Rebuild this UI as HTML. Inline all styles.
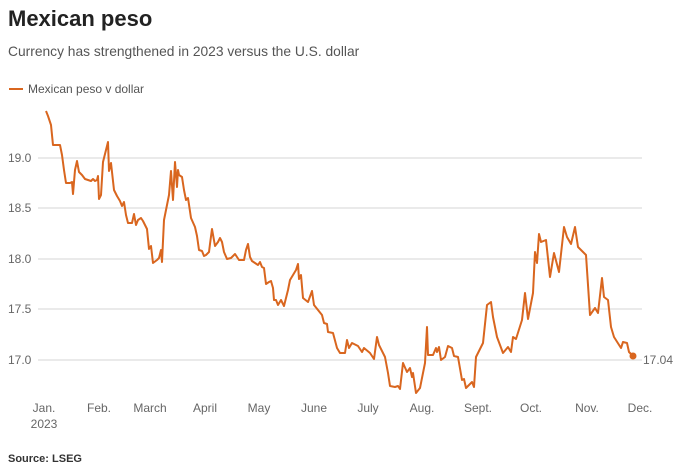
<!DOCTYPE html>
<html><head><meta charset="utf-8"><style>
body{margin:0;width:676px;height:467px;background:#fff;font-family:"Liberation Sans",sans-serif;overflow:hidden}
</style></head><body>
<svg width="676" height="467" xmlns="http://www.w3.org/2000/svg" font-family="Liberation Sans, sans-serif">
<text x="8" y="26" font-size="22" font-weight="bold" fill="#222">Mexican peso</text>
<text x="8" y="56" font-size="13.8" fill="#555">Currency has strengthened in 2023 versus the U.S. dollar</text>
<line x1="9" y1="89" x2="23" y2="89" stroke="#d9661f" stroke-width="2"/>
<text x="28" y="93" font-size="12" fill="#555">Mexican peso v dollar</text>
<g stroke="#ddd" stroke-width="1.2">
<line x1="38" y1="158" x2="642" y2="158"/><line x1="38" y1="208" x2="642" y2="208"/>
<line x1="38" y1="259" x2="642" y2="259"/><line x1="38" y1="309" x2="642" y2="309"/>
<line x1="38" y1="360" x2="642" y2="360"/></g>
<g font-size="12" fill="#666">
<text x="8" y="162">19.0</text><text x="8" y="212">18.5</text><text x="8" y="263">18.0</text><text x="8" y="313">17.5</text><text x="8" y="364">17.0</text>
<text x="643" y="364">17.04</text>
<g text-anchor="middle">
<text x="44" y="412">Jan.</text><text x="44" y="428">2023</text>
<text x="99" y="412">Feb.</text><text x="150" y="412">March</text><text x="205" y="412">April</text>
<text x="259" y="412">May</text><text x="314" y="412">June</text><text x="368" y="412">July</text>
<text x="422" y="412">Aug.</text><text x="478" y="412">Sept.</text><text x="531" y="412">Oct.</text>
<text x="587" y="412">Nov.</text><text x="640" y="412">Dec.</text></g></g>
<polyline fill="none" stroke="#d9661f" stroke-width="2" stroke-linejoin="round" points="46,111 48,116 51,125 53,145 58,145 60,145 62,155 64,170 66,183 70,183 72,182 73,194 75,170 77,161 79,172 82,175 85,179 88,180 91,181 93,179 95,181 97,180 98,176 99,199 101,195 103,162 106,150 108,142 109,171 111,163 114,190 117,196 120,201 122,206 124,202 126,215 128,223 132,223 134,214 136,225 138,220 141,218 143,221 147,229 149,249 151,246 153,263 157,260 159,258 161,250 162,262 164,220 169,195 171,171 173,200 175,162 177,187 178,170 179,175 182,177 184,190 186,200 188,198 191,218 195,227 197,236 199,250 202,251 204,256 206,255 209,252 210,244 212,229 215,246 218,242 220,238 222,242 224,252 227,259 231,258 235,254 237,257 239,260 244,260 246,250 248,244 250,257 252,261 255,263 258,265 260,262 262,267 264,268 266,284 269,282 271,281 273,288 274,300 276,300 278,305 281,300 284,306 288,290 290,280 293,275 296,270 298,264 299,279 301,275 303,298 308,302 312,291 314,305 318,310 322,315 324,323 327,324 328,332 333,333 337,348 340,353 345,353 347,340 349,348 352,343 358,346 362,352 364,348 370,353 374,359 377,337 379,345 385,357 388,373 390,386 395,387 398,386 400,389 403,363 407,372 410,368 412,377 413,373 416,393 420,388 425,363 427,327 428,355 433,355 436,348 437,352 439,347 441,360 445,357 448,346 452,348 454,356 458,357 462,380 464,379 466,388 472,382 474,387 476,357 483,343 487,305 491,302 493,317 497,337 503,353 508,347 511,352 513,337 516,339 522,320 525,293 528,319 533,293 535,252 537,263 539,234 541,242 546,240 550,277 554,253 559,272 564,227 567,237 571,244 575,227 578,247 586,255 590,315 595,308 598,313 602,278 604,297 608,300 611,327 614,337 621,348 623,342 627,343 629,352 633,356"/>
<circle cx="633" cy="356" r="3.5" fill="#d9661f"/>
<text x="8" y="462" font-size="11" font-weight="bold" fill="#333">Source: LSEG</text>
</svg>
</body></html>
